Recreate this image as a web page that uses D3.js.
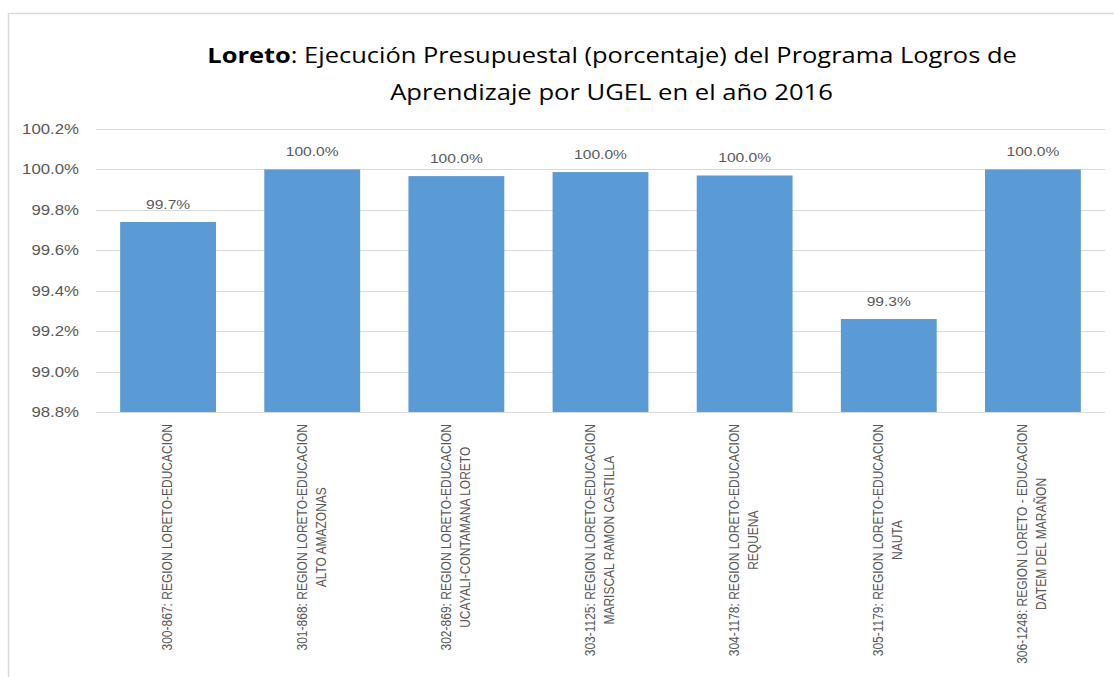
<!DOCTYPE html>
<html>
<head>
<meta charset="utf-8">
<script src="https://d3js.org/d3.v7.min.js"></script>
<style>
  body { margin: 0; background: #fff; }
  svg { display: block; }
</style>
</head>
<body>
<svg id="chart" width="1114" height="677"></svg>
<script>
// data
var categories = [
  ["300-867: REGION LORETO-EDUCACION"],
  ["301-868: REGION LORETO-EDUCACION", "ALTO AMAZONAS"],
  ["302-869: REGION LORETO-EDUCACION", "UCAYALI-CONTAMANA LORETO"],
  ["303-1125: REGION LORETO-EDUCACION", "MARISCAL RAMON CASTILLA"],
  ["304-1178: REGION LORETO-EDUCACION", "REQUENA"],
  ["305-1179: REGION LORETO-EDUCACION", "NAUTA"],
  ["306-1248: REGION LORETO - EDUCACION", "DATEM DEL MARAÑON"]
];
var values = [99.74, 100.0, 99.967, 99.987, 99.97, 99.26, 100.0];
var yTicks = [98.8, 99.0, 99.2, 99.4, 99.6, 99.8, 100.0, 100.2];

var svg = d3.select("#chart");
var plotLeft = 96, plotRight = 1105, plotTop = 129, plotBottom = 412;
var stretch = 1.2; // the picture is a bit wide, so horizontal text is widened

// chart border
svg.append("path")
  .attr("d", "M8.5,677V13.5H1114")
  .attr("fill", "none")
  .attr("stroke", "#d9d9d9")
  .attr("stroke-width", 1.5);

var x = d3.scaleBand().domain(d3.range(categories.length))
  .range([plotLeft, plotRight]).paddingInner(0.335).paddingOuter(0.1675);
var y = d3.scaleLinear().domain([98.8, 100.2]).range([plotBottom, plotTop]);

// gridlines
svg.append("g").selectAll("line").data(yTicks).enter().append("line")
  .attr("x1", plotLeft).attr("x2", plotRight)
  .attr("y1", function(d) { return Math.round(y(d)) + 0.5; })
  .attr("y2", function(d) { return Math.round(y(d)) + 0.5; })
  .attr("stroke", "#d9d9d9").attr("stroke-width", 1);

// y tick labels
svg.append("g").selectAll("text").data(yTicks).enter().append("text")
  .attr("transform", function(d) { return "translate(79," + (y(d) + 5) + ") scale(" + stretch + ",1)"; })
  .attr("text-anchor", "end")
  .attr("font-family", "Liberation Sans, Arial, sans-serif")
  .attr("font-size", 14)
  .attr("fill", "#595959")
  .text(function(d) { return d.toFixed(1) + "%"; });

// bars
svg.append("g").selectAll("rect").data(values).enter().append("rect")
  .attr("x", function(d, i) { return x(i); })
  .attr("width", x.bandwidth())
  .attr("y", function(d) { return y(d); })
  .attr("height", function(d) { return plotBottom - y(d); })
  .attr("fill", "#5b9bd5");

// data labels
svg.append("g").selectAll("text").data(values).enter().append("text")
  .attr("transform", function(d, i) {
    return "translate(" + (x(i) + x.bandwidth() / 2) + "," + (y(d) - 13) + ") scale(" + stretch + ",1)";
  })
  .attr("text-anchor", "middle")
  .attr("font-family", "Liberation Sans, Arial, sans-serif")
  .attr("font-size", 13)
  .attr("fill", "#595959")
  .text(function(d) { return d.toFixed(1) + "%"; });

// category labels, rotated, each line centred on the longest one
var labelTop = 424, lineGap = 19;
categories.forEach(function(lines, i) {
  var cx = x(i) + x.bandwidth() / 2;
  var g = svg.append("g");
  var texts = lines.map(function(t, k) {
    return g.append("text")
      .attr("font-family", "Liberation Sans, Arial, sans-serif")
      .attr("font-size", 12)
      .attr("fill", "#595959")
      .attr("text-anchor", "middle")
      .text(t);
  });
  var maxLen = d3.max(texts, function(t) { return t.node().getComputedTextLength(); });
  var cy = labelTop + maxLen / 2;
  texts.forEach(function(t, k) {
    var off = (k - (lines.length - 1) / 2) * lineGap;
    t.attr("transform", "translate(" + (cx + off + 4) + "," + cy + ") rotate(-90) scale(1," + stretch + ")");
  });
});

// title
var titleFont = "Open Sans, Lato, sans-serif";
var t1 = svg.append("text")
  .attr("font-family", titleFont).attr("font-size", 22).attr("fill", "#000");
t1.append("tspan").attr("font-weight", "bold").text("Loreto");
t1.append("tspan").text(": Ejecución Presupuestal (porcentaje) del Programa Logros de");
var t2 = svg.append("text")
  .attr("font-family", titleFont).attr("font-size", 22).attr("fill", "#000")
  .text("Aprendizaje por UGEL en el año 2016");

function fitLine(sel, cx, baseline, width) {
  var w = sel.node().getComputedTextLength();
  var s = width / w;
  sel.attr("text-anchor", "middle")
    .attr("transform", "translate(" + cx + "," + baseline + ") scale(" + s + ",1)");
}
fitLine(t1, 612, 63, 810);
fitLine(t2, 611.5, 100, 443);
</script>
</body>
</html>
